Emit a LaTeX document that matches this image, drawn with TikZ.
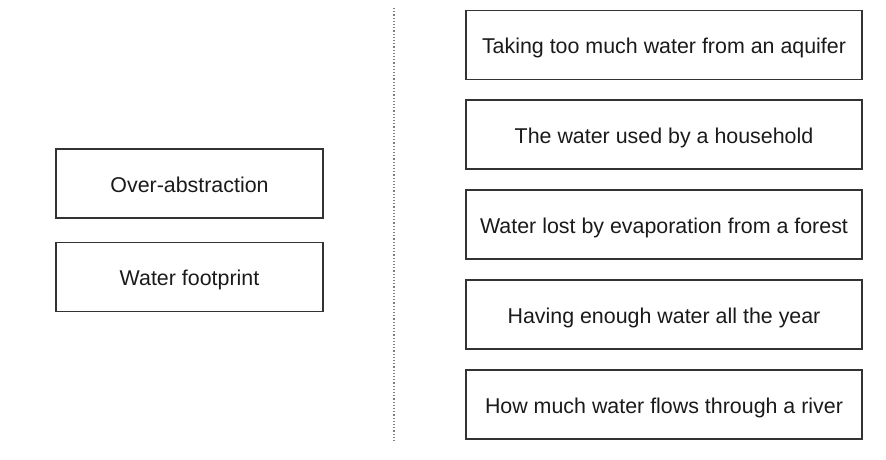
\documentclass[tikz,border=0pt]{standalone}
\usepackage{fontspec}
\setmainfont{Liberation Sans}
\usepackage{tikz}
\usepackage{xcolor}
\usetikzlibrary{positioning}

\definecolor{boxline}{HTML}{333333}
\definecolor{textcol}{HTML}{1A1A1A}

\tikzset{
    term/.style={rectangle, draw=boxline, line width=1.3pt, minimum width=267pt, minimum height=69pt, inner sep=0pt, text height=20pt, text depth=3pt, text=textcol, font=\fontsize{21.4}{25}\selectfont},
    meaning/.style={term, minimum width=396pt}
}

\begin{document}
\begin{tikzpicture}[x=1pt, y=-1pt]
        \useasboundingbox (0, 0) rectangle (886, 460);

        \node[term] (over) at (189.5, 183.5) {Over-abstraction};
        \node[term] (foot) at (189.5, 277) {Water footprint};

        \coordinate (top) at (394, 8);
        \coordinate (bot) at (394, 441);
        \draw[gray, line width=1.2pt, dotted] (top) -- (bot);

        \node[meaning] (aquifer) at (664, 45) {Taking too much water from an aquifer};
        \node[meaning] (house) at (664, 134.5) {The water used by a household};
        \node[meaning] (forest) at (664, 224.5) {Water lost by evaporation from a forest};
        \node[meaning] (year) at (664, 314.5) {Having enough water all the year};
        \node[meaning] (river) at (664, 404.5) {How much water flows through a river};
    \end{tikzpicture}
\end{document}
